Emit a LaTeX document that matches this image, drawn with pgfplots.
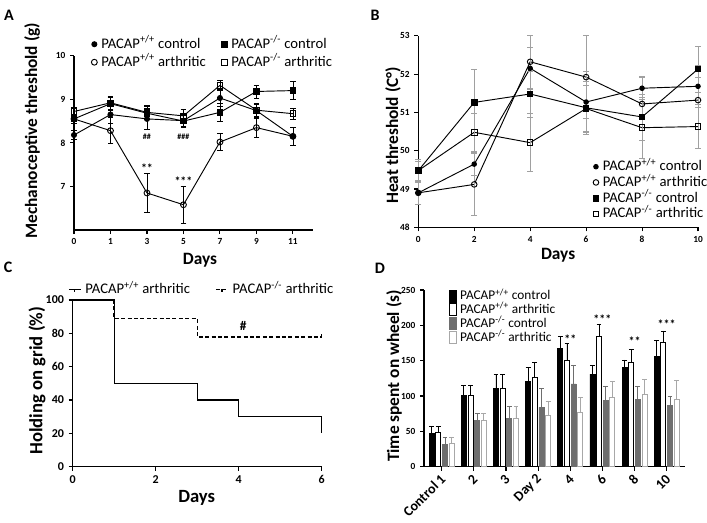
\documentclass[border=0pt]{standalone}
\usepackage{fontspec}
\setmainfont{Carlito}
\usepackage{pgfplots}
\pgfplotsset{compat=1.18}
\definecolor{bargray}{HTML}{6E6E6E}
\definecolor{lightedge}{HTML}{A8A8A8}
\definecolor{errgray}{HTML}{A0A0A0}
\pgfplotsset{
  common/.style={
    scale only axis, anchor=south west,
    axis x line*=bottom, axis y line*=left,
    axis line style={line width=0.9pt},
    tick style={black, line width=0.8pt},
    tick align=outside, major tick length=3pt,
    /pgf/number format/assume math mode=true,
    tick label style={font=\bfseries\fontsize{7}{8}\selectfont},
    label style={font=\bfseries\fontsize{13}{15}\selectfont},
    legend style={draw=none, fill=none, font=\fontsize{11}{12}\selectfont,
      nodes={text height=7.5pt, text depth=1.5pt, inner ysep=1pt, inner xsep=3pt}},
    legend cell align=left,
    clip=false,
  },
  markleg/.style={legend image code/.code={\draw[##1,only marks] plot coordinates {(2.5pt,0pt)};}},
  barleg/.style={legend image code/.code={\draw[##1] (0pt,-4.5pt) rectangle (5.5pt,4.5pt);}},
  lineA/.style={black, line width=0.7pt},
  ebA/.style={error bars/.cd, y dir=both, y explicit, error bar style={black,line width=0.6pt}, error mark options={rotate=90, mark size=2.2pt, line width=0.6pt, black}},
  ebB/.style={error bars/.cd, y dir=both, y explicit, error bar style={errgray,line width=0.6pt}, error mark options={rotate=90, mark size=2.2pt, line width=0.6pt, errgray}},
}
\pgfplotstableread{
x y e
0 8.18 0.10
1 8.65 0.20
2 8.55 0.25
3 8.51 0.15
4 9.03 0.20
5 8.74 0.15
6 8.15 0.20
}\Aconwt
\pgfplotstableread{
x y e
0 8.55 0.10
1 8.28 0.30
2 6.85 0.45
3 6.58 0.42
4 8.02 0.20
5 8.35 0.22
6 8.15 0.20
}\Aarwt
\pgfplotstableread{
x y e
0 8.55 0.10
1 8.90 0.15
2 8.68 0.15
3 8.50 0.12
4 8.70 0.20
5 9.18 0.15
6 9.20 0.20
}\Aconko
\pgfplotstableread{
x y e
0 8.72 0.10
1 8.92 0.15
2 8.70 0.15
3 8.62 0.15
4 9.32 0.12
5 8.75 0.15
6 8.67 0.12
}\Aarko
\pgfplotstableread{
x y e
0 48.90 0.30
2 49.65 0.30
4 52.15 0.55
6 51.27 0.80
8 51.63 0.30
10 51.68 0.55
}\Bconwt
\pgfplotstableread{
x y e
0 48.90 0.30
2 49.12 0.82
4 52.32 0.70
6 51.92 1.08
8 51.22 0.70
10 51.32 0.60
}\Barwt
\pgfplotstableread{
x y e
0 49.48 0.25
2 51.26 0.85
4 51.48 0.60
6 51.12 0.70
8 50.88 0.60
10 52.13 0.60
}\Bconko
\pgfplotstableread{
x y e
0 49.48 0.30
2 50.48 0.50
4 50.21 0.76
6 51.10 0.60
8 50.60 0.80
10 50.63 0.58
}\Barko
\pgfplotstableread{
x y e
0 47 10
1 101 14
2 111 20
3 121 20
4 167 17
5 131 12
6 141 10
7 156 23
}\Dconwt
\pgfplotstableread{
x y e
0 48 9
1 101 14
2 111 19
3 126 22
4 151 23
5 185 17
6 147 19
7 176 16
}\Darwt
\pgfplotstableread{
x y e
0 32 9
1 65 10
2 68 17
3 84 27
4 117 27
5 94 20
6 95 18
7 87 13
}\Dconko
\pgfplotstableread{
x y e
0 33 9
1 65 10
2 69 16
3 73 20
4 77 21
5 98 23
6 102 22
7 95 27
}\Darko
\begin{document}
\begin{tikzpicture}
\path[use as bounding box] (0,0) rectangle (530.25pt,391.5pt);
\node[font=\bfseries\fontsize{12}{14}\selectfont] at (6.75pt,380.25pt) {A};
\node[font=\bfseries\fontsize{12}{14}\selectfont] at (281.25pt,380.25pt) {B};
\node[font=\bfseries\fontsize{12}{14}\selectfont] at (6pt,191.25pt) {C};
\node[font=\bfseries\fontsize{12}{14}\selectfont] at (285pt,190.5pt) {D};
% ---------------- A
\begin{axis}[common, at={(55.5pt,219pt)}, width=179.25pt, height=130.7pt,
  xmin=0, xmax=6.55, ymin=6, ymax=10,
  xtick={0,...,6}, xticklabels={0,1,3,5,7,9,11}, ytick={7,8,9,10},
  xlabel={Days}, ylabel={Mechanoceptive threshold (g)},
  x label style={at={(axis description cs:0.527,-0.172)}, anchor=center},
  y label style={at={(axis description cs:-0.175,0.57)}, anchor=center},
  legend columns=2,
  legend style={at={(axis description cs:0.055,1.125)}, anchor=north west, /tikz/every even column/.append style={column sep=9pt}, row sep=2.5pt},
  markleg]
\addplot[lineA, mark=*, mark size=1.9pt, ebA] table[x=x,y=y,y error=e] {\Aconwt};
\addlegendentry{PACAP\textsuperscript{+/+} control}
\addplot[lineA, mark=square*, mark size=2.1pt, ebA] table[x=x,y=y,y error=e] {\Aconko};
\addlegendentry{PACAP\textsuperscript{-/-} control}
\addplot[lineA, mark=o, mark size=2.2pt, mark options={fill=white}, ebA] table[x=x,y=y,y error=e] {\Aarwt};
\addlegendentry{PACAP\textsuperscript{+/+} arthritic}
\addplot[lineA, mark=square, mark size=2.1pt, mark options={fill=white}, ebA] table[x=x,y=y,y error=e] {\Aarko};
\addlegendentry{PACAP\textsuperscript{-/-} arthritic}
\node[font=\bfseries\fontsize{9}{10}\selectfont] at (axis cs:2,7.42) {**};
\node[font=\bfseries\fontsize{9}{10}\selectfont] at (axis cs:3,7.13) {***};
\node[font=\bfseries\fontsize{6}{7}\selectfont] at (axis cs:2,8.14) {\#\#};
\node[font=\bfseries\fontsize{6}{7}\selectfont] at (axis cs:3,8.14) {\#\#\#};
\end{axis}
% ---------------- B
\begin{axis}[common, at={(313.7pt,221pt)}, width=209.8pt, height=143.7pt,
  xmin=0, xmax=10, ymin=48, ymax=53,
  xtick={0,2,...,10}, ytick={48,...,53},
  xlabel={Days}, ylabel={Heat threshold (C°)},
  x label style={at={(axis description cs:0.5,-0.145)}, anchor=center},
  y label style={at={(axis description cs:-0.09,0.48)}, anchor=center},
  legend style={at={(axis description cs:0.61,0.37)}, anchor=north west, row sep=0.8pt},
  markleg]
\addplot[lineA, mark=*, mark size=1.7pt, ebB] table[x=x,y=y,y error=e] {\Bconwt};
\addlegendentry{PACAP\textsuperscript{+/+} control}
\addplot[lineA, mark=o, mark size=2.1pt, mark options={fill=white}, ebB] table[x=x,y=y,y error=e] {\Barwt};
\addlegendentry{PACAP\textsuperscript{+/+} arthritic}
\addplot[lineA, mark=square*, mark size=2.1pt, ebB] table[x=x,y=y,y error=e] {\Bconko};
\addlegendentry{PACAP\textsuperscript{-/-} control}
\addplot[lineA, mark=square, mark size=2.1pt, mark options={fill=white}, ebB] table[x=x,y=y,y error=e] {\Barko};
\addlegendentry{PACAP\textsuperscript{-/-} arthritic}
\end{axis}
% ---------------- C
\begin{axis}[common, at={(54.5pt,41.5pt)}, width=186.75pt, height=125pt,
  xmin=0, xmax=6, ymin=0, ymax=100,
  xtick={0,2,4,6}, ytick={0,20,...,100},
  tick label style={font=\bfseries\fontsize{9}{10}\selectfont},
  label style={font=\bfseries\fontsize{14}{16}\selectfont},
  xlabel={Days}, ylabel={Holding on grid (\%)},
  x label style={at={(axis description cs:0.498,-0.19)}, anchor=center},
  y label style={at={(axis description cs:-0.143,0.516)}, anchor=center},
  legend columns=2,
  legend style={at={(axis description cs:-0.035,1.125)}, anchor=north west, /tikz/every even column/.append style={column sep=16pt}},
  legend image code/.code={\draw[#1] (0pt,0pt) -- (9pt,0pt); \draw[#1,solid] (4.5pt,0pt) -- (4.5pt,-2pt);}]
\addplot[black, line width=0.9pt] coordinates {(0,100) (1,100) (1,50) (3,50) (3,40) (4,40) (4,30) (6,30) (6,20)};
\addlegendentry{PACAP\textsuperscript{+/+} arthritic}
\addplot[black, line width=1pt, dash pattern=on 3pt off 1.8pt] coordinates {(1,100) (1,88.9) (3,88.9) (3,77.8) (6,77.8) (6,80.3)};
\addlegendentry{PACAP\textsuperscript{-/-} arthritic}
\node[font=\bfseries\fontsize{10}{12}\selectfont] at (axis cs:4.11,84.5) {\#};
\end{axis}
% ---------------- D
\begin{axis}[common, at={(318pt,41.5pt)}, width=195.75pt, height=132.5pt,
  ybar=1.25pt, bar width=3.75pt,
  xmin=-0.55, xmax=7.57, ymin=0, ymax=250,
  xtick={0,...,7}, xticklabels={Control 1,2,3,Day 2,4,6,8,10},
  ytick={0,50,...,250},
  x tick label style={rotate=45, anchor=east, yshift=-4pt, xshift=1pt, font=\bfseries\fontsize{10.5}{12}\selectfont},
  ylabel={Time spent on wheel (s)},
  y label style={at={(axis description cs:-0.115,0.513)}, anchor=center},
  legend style={at={(axis description cs:0.078,1.025)}, anchor=north west, row sep=-0.6pt, font=\fontsize{10}{11}\selectfont, nodes={inner xsep=2.5pt}}]
\addplot[fill=black, draw=black, line width=0.5pt, barleg, error bars/.cd, y dir=plus, y explicit, error bar style={black,line width=0.6pt}, error mark options={rotate=90, mark size=1.8pt, line width=0.6pt, black}] table[x=x,y=y,y error=e] {\Dconwt};
\addlegendentry{PACAP\textsuperscript{+/+} control}
\addplot[fill=white, draw=black, line width=0.6pt, barleg, error bars/.cd, y dir=plus, y explicit, error bar style={black,line width=0.6pt}, error mark options={rotate=90, mark size=1.8pt, line width=0.6pt, black}] table[x=x,y=y,y error=e] {\Darwt};
\addlegendentry{PACAP\textsuperscript{+/+} arthritic}
\addplot[fill=bargray, draw=bargray, line width=0.5pt, barleg, error bars/.cd, y dir=plus, y explicit, error bar style={bargray,line width=0.6pt}, error mark options={rotate=90, mark size=1.8pt, line width=0.6pt, bargray}] table[x=x,y=y,y error=e] {\Dconko};
\addlegendentry{PACAP\textsuperscript{-/-} control}
\addplot[fill=white, draw=lightedge, line width=0.6pt, barleg, error bars/.cd, y dir=plus, y explicit, error bar style={lightedge,line width=0.6pt}, error mark options={rotate=90, mark size=1.8pt, line width=0.6pt, lightedge}] table[x=x,y=y,y error=e] {\Darko};
\addlegendentry{PACAP\textsuperscript{-/-} arthritic}
\node[font=\bfseries\fontsize{9}{10}\selectfont] at (axis cs:4,181) {**};
\node[font=\bfseries\fontsize{9}{10}\selectfont] at (axis cs:5,208) {***};
\node[font=\bfseries\fontsize{9}{10}\selectfont] at (axis cs:6,178) {**};
\node[font=\bfseries\fontsize{9}{10}\selectfont] at (axis cs:7,201) {***};
\end{axis}
\end{tikzpicture}
\end{document}
